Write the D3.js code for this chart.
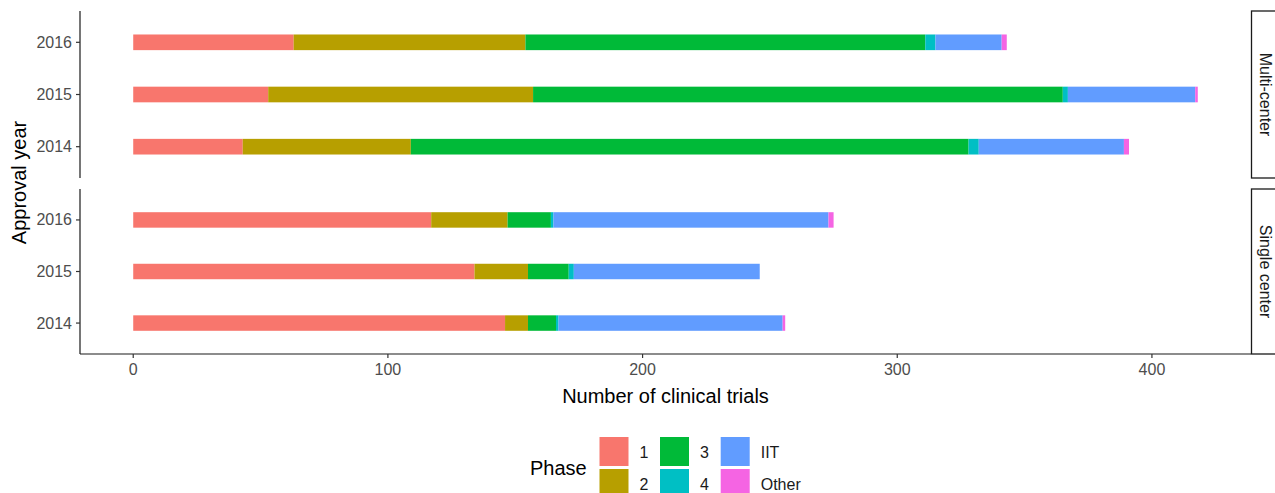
<!DOCTYPE html>
<html>
<head>
<meta charset="utf-8">
<script src="https://cdn.jsdelivr.net/npm/d3@7.9.0/dist/d3.min.js"></script>
<style>
  body { margin: 0; background: #fff; }
  text { font-family: "Liberation Sans", Arial, sans-serif; }
</style>
</head>
<body>
<svg id="chart" width="1275" height="493"></svg>
<script>
// ===== DATA =====
const years = ["2014", "2015", "2016"];
const phases = ["1", "2", "3", "4", "IIT", "Other"];
const centers = ["Multi-center", "Single center"];
const phaseColors = ["#F8766D", "#B79F00", "#00BA38", "#00BFC4", "#619CFF", "#F564E3"];

// trials per phase, one row per year (2014, 2015, 2016)
const multiCenter = [
  [43, 66, 219, 4, 57, 2],
  [53, 104, 208, 2, 50, 1],
  [63, 91, 157, 4, 26, 2]
];
const singleCenter = [
  [146, 9, 11, 1, 88, 1],
  [134, 21, 16, 2, 73, 0],
  [117, 30, 17, 1, 108, 2]
];
const xTicks = [0, 100, 200, 300, 400];

const panelData = [multiCenter, singleCenter];

const svg = d3.select("#chart");
const left = 80, right = 1251;
const panels = [{ top: 11, bottom: 178 }, { top: 189, bottom: 354 }];

const rows = panelData.map(p => p.map((vals, i) => {
  const o = { year: years[i] };
  phases.forEach((ph, j) => o[ph] = vals[j]);
  return o;
}));
const maxTotal = d3.max(panelData.flat(), r => d3.sum(r));
const pad = maxTotal * 0.05;

const x = d3.scaleLinear().domain([-pad, maxTotal + pad]).range([left, right]);
const color = d3.scaleOrdinal().domain(phases).range(phaseColors);
const stack = d3.stack().keys(phases);

panels.forEach((pn, k) => {
  // discrete y with ggplot-style 0.6 expansion
  const y = d3.scaleLinear().domain([0.4, 3.6]).range([pn.bottom, pn.top]);
  const yPos = yr => y(years.indexOf(yr) + 1);
  const barH = (y(0) - y(0.3));

  const g = svg.append("g");
  const series = stack(rows[k]);
  g.selectAll("g.layer")
    .data(series)
    .enter().append("g")
    .attr("fill", d => color(d.key))
    .selectAll("rect")
    .data(d => d)
    .enter().append("rect")
    .attr("x", d => x(d[0]))
    .attr("width", d => x(d[1]) - x(d[0]))
    .attr("y", d => yPos(d.data.year) - barH / 2)
    .attr("height", barH);

  // y axis
  const yAxis = g.append("g").attr("transform", `translate(${left},0)`);
  yAxis.append("line")
    .attr("x1", 0).attr("x2", 0)
    .attr("y1", pn.top).attr("y2", pn.bottom)
    .attr("stroke", "#1a1a1a").attr("stroke-width", 1.2);
  years.forEach(yr => {
    yAxis.append("line")
      .attr("x1", -4).attr("x2", 0)
      .attr("y1", yPos(yr)).attr("y2", yPos(yr))
      .attr("stroke", "#333").attr("stroke-width", 1.2);
    yAxis.append("text")
      .attr("x", -8).attr("y", yPos(yr))
      .attr("text-anchor", "end")
      .attr("dominant-baseline", "central")
      .attr("font-size", "16px")
      .attr("fill", "#4D4D4D")
      .text(yr);
  });

  // strip
  svg.append("rect")
    .attr("x", right + 0.5).attr("y", pn.top)
    .attr("width", 40).attr("height", pn.bottom - pn.top)
    .attr("fill", "#fff").attr("stroke", "#1a1a1a").attr("stroke-width", 1.3);
  const cy = (pn.top + pn.bottom) / 2;
  svg.append("text")
    .attr("transform", `translate(1265,${cy}) rotate(90)`)
    .attr("text-anchor", "middle")
    .attr("dominant-baseline", "central")
    .attr("font-size", "16px")
    .attr("fill", "#1A1A1A")
    .text(centers[k]);
});

// ===== X AXIS =====
const bottom = panels[1].bottom;
svg.append("line")
  .attr("x1", left).attr("x2", right)
  .attr("y1", bottom).attr("y2", bottom)
  .attr("stroke", "#1a1a1a").attr("stroke-width", 1.2);
xTicks.forEach(t => {
  svg.append("line")
    .attr("x1", x(t)).attr("x2", x(t))
    .attr("y1", bottom).attr("y2", bottom + 4)
    .attr("stroke", "#333").attr("stroke-width", 1.2);
  svg.append("text")
    .attr("x", x(t)).attr("y", bottom + 15)
    .attr("text-anchor", "middle")
    .attr("dominant-baseline", "central")
    .attr("font-size", "16px")
    .attr("fill", "#4D4D4D")
    .text(t);
});

// ===== AXIS LABELS =====
svg.append("text")
  .attr("x", (left + right) / 2).attr("y", 396)
  .attr("text-anchor", "middle")
  .attr("dominant-baseline", "central")
  .attr("font-size", "20px")
  .text("Number of clinical trials");

svg.append("text")
  .attr("transform", `translate(19,${(panels[0].top + bottom) / 2}) rotate(-90)`)
  .attr("text-anchor", "middle")
  .attr("dominant-baseline", "central")
  .attr("font-size", "20px")
  .text("Approval year");

// ===== LEGEND =====
const legend = svg.append("g").attr("class", "legend");
legend.append("text")
  .attr("x", 530).attr("y", 468)
  .attr("dominant-baseline", "central")
  .attr("font-size", "20px")
  .text("Phase");

const keySize = 29, colX = [599.5, 660, 720.7], rowY = [437, 469];
phases.forEach((ph, i) => {
  const c = Math.floor(i / 2), r = i % 2;
  legend.append("rect")
    .attr("x", colX[c]).attr("y", rowY[r])
    .attr("width", keySize).attr("height", keySize)
    .attr("fill", color(ph));
  legend.append("text")
    .attr("x", colX[c] + keySize + 11).attr("y", rowY[r] + keySize / 2 + 1)
    .attr("dominant-baseline", "central")
    .attr("font-size", "16px")
    .attr("fill", "#1A1A1A")
    .text(ph);
});
</script>
</body>
</html>
